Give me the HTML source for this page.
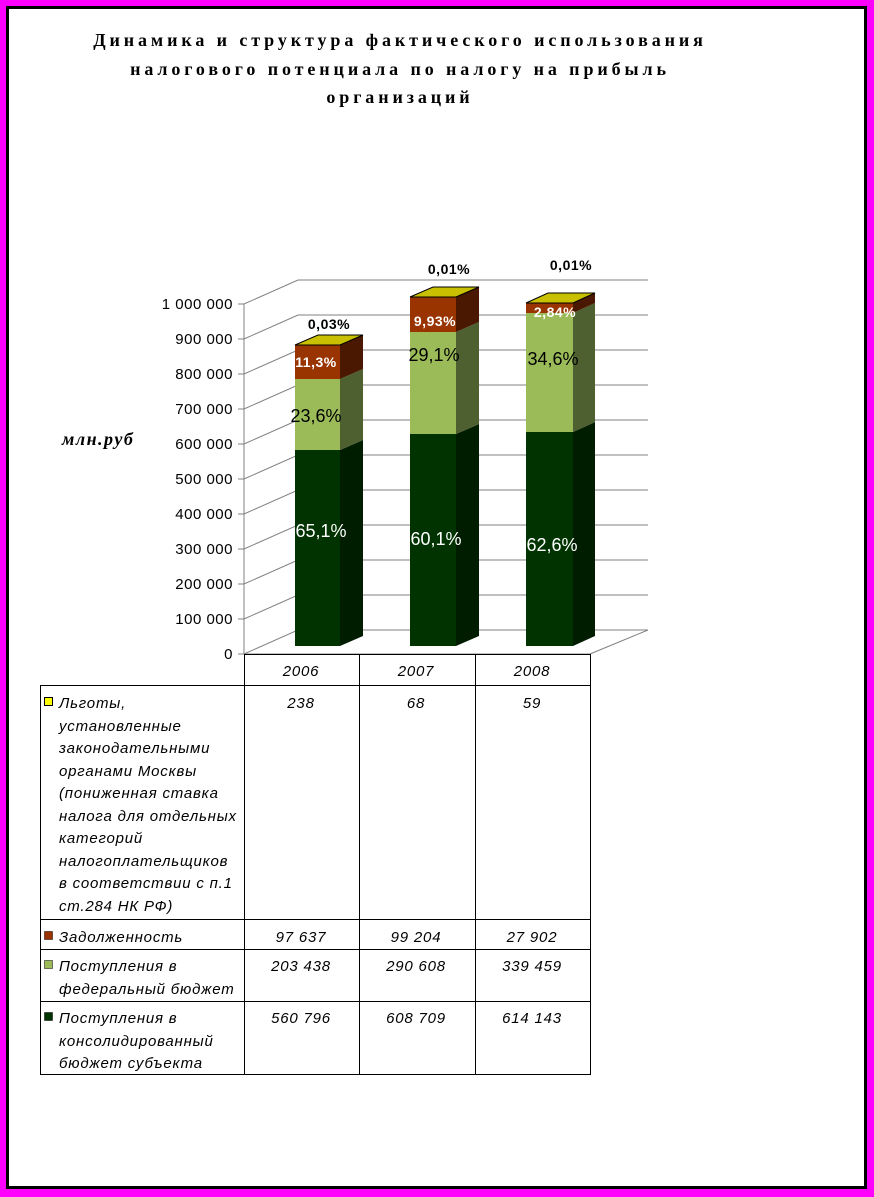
<!DOCTYPE html>
<html><head><meta charset="utf-8"><style>
html,body{margin:0;padding:0;background:#fff}
svg{display:block}
</style></head><body>
<svg width="874" height="1197" xmlns="http://www.w3.org/2000/svg" font-family="Liberation Sans, sans-serif">
<rect x="0" y="0" width="874" height="1197" fill="#ff00ff"/>
<rect x="6" y="6" width="861" height="1183" fill="#000"/>
<rect x="9" y="9" width="855" height="1177" fill="#fff"/>
<g font-family="Liberation Serif, serif" font-weight="bold" font-size="18" text-anchor="middle" letter-spacing="3.9">
<text x="400" y="46">Динамика и структура фактического использования</text>
<text x="400" y="75">налогового потенциала по налогу на прибыль</text>
<text x="400" y="103">организаций</text>
</g>
<text x="62" y="445" font-family="Liberation Serif, serif" font-style="italic" font-weight="bold" font-size="18" letter-spacing="1.5">млн.руб</text>
<g stroke="#808080" stroke-width="1" fill="none">
<line x1="244" y1="304" x2="244" y2="654"/>
<line x1="244" y1="654" x2="590" y2="654"/>
<line x1="590" y1="654" x2="648" y2="630"/>
</g>
<g stroke="#808080" stroke-width="1" fill="none">
<polyline points="238,654 244,654 298,630 648,630"/>
<polyline points="238,619 244,619 298,595 648,595"/>
<polyline points="238,584 244,584 298,560 648,560"/>
<polyline points="238,549 244,549 298,525 648,525"/>
<polyline points="238,514 244,514 298,490 648,490"/>
<polyline points="238,479 244,479 298,455 648,455"/>
<polyline points="238,444 244,444 298,420 648,420"/>
<polyline points="238,409 244,409 298,385 648,385"/>
<polyline points="238,374 244,374 298,350 648,350"/>
<polyline points="238,339 244,339 298,315 648,315"/>
<polyline points="238,304 244,304 298,280 648,280"/>
</g>
<g font-size="15" letter-spacing="0.5" text-anchor="end" fill="#000">
<text x="233" y="659">0</text><text x="233" y="624">100 000</text><text x="233" y="589">200 000</text>
<text x="233" y="554">300 000</text><text x="233" y="519">400 000</text><text x="233" y="484">500 000</text>
<text x="233" y="449">600 000</text><text x="233" y="414">700 000</text><text x="233" y="379">800 000</text>
<text x="233" y="344">900 000</text><text x="233" y="309">1 000 000</text>
</g>
<g>
<rect x="295" y="450" width="45" height="196" fill="#003300"/>
<polygon points="340,450 363,440 363,636 340,646" fill="#001d00"/>
<rect x="295" y="379" width="45" height="71" fill="#9bbb59"/>
<polygon points="340,379 363,369 363,440 340,450" fill="#4f6030"/>
<rect x="295" y="345" width="45" height="34" fill="#993300"/>
<polygon points="340,345 363,335 363,369 340,379" fill="#4a1800"/>
<polygon points="295,345 318,335 363,335 340,345" fill="#c8c000" stroke="#000" stroke-width="1"/>
</g>
<g>
<rect x="410" y="434" width="46" height="212" fill="#003300"/>
<polygon points="456,434 479,424 479,636 456,646" fill="#001d00"/>
<rect x="410" y="332" width="46" height="102" fill="#9bbb59"/>
<polygon points="456,332 479,322 479,424 456,434" fill="#4f6030"/>
<rect x="410" y="297" width="46" height="35" fill="#993300"/>
<polygon points="456,297 479,287 479,322 456,332" fill="#4a1800"/>
<polygon points="410,297 433,287 479,287 456,297" fill="#c8c000" stroke="#000" stroke-width="1"/>
</g>
<g>
<rect x="526" y="432" width="47" height="214" fill="#003300"/>
<polygon points="573,432 595,422 595,636 573,646" fill="#001d00"/>
<rect x="526" y="313" width="47" height="119" fill="#9bbb59"/>
<polygon points="573,313 595,303 595,422 573,432" fill="#4f6030"/>
<rect x="526" y="303" width="47" height="10" fill="#993300"/>
<polygon points="573,303 595,293 595,303 573,313" fill="#4a1800"/>
<polygon points="526,303 548,293 595,293 573,303" fill="#c8c000" stroke="#000" stroke-width="1"/>
</g>
<g font-size="18" text-anchor="middle">
<text x="321" y="537" fill="#fff">65,1%</text>
<text x="316" y="422" fill="#000">23,6%</text>
<text x="436" y="545" fill="#fff">60,1%</text>
<text x="434" y="361" fill="#000">29,1%</text>
<text x="552" y="551" fill="#fff">62,6%</text>
<text x="553" y="365" fill="#000">34,6%</text>
</g>
<g font-size="14" font-weight="bold" text-anchor="middle" letter-spacing="0.5">
<text x="316" y="367" fill="#fff">11,3%</text>
<text x="329" y="329" fill="#000">0,03%</text>
<text x="435" y="326" fill="#fff">9,93%</text>
<text x="449" y="274" fill="#000">0,01%</text>
<text x="555" y="317" fill="#fff">2,84%</text>
<text x="571" y="270" fill="#000">0,01%</text>
</g>
<g stroke="#000" stroke-width="1" fill="none">
<rect x="244.5" y="654.5" width="346" height="31"/>
<rect x="40.5" y="685.5" width="550" height="389"/>
<line x1="244.5" y1="654" x2="244.5" y2="1075"/>
<line x1="359.5" y1="654" x2="359.5" y2="1075"/>
<line x1="475.5" y1="654" x2="475.5" y2="1075"/>
<line x1="40" y1="919.5" x2="591" y2="919.5"/>
<line x1="40" y1="949.5" x2="591" y2="949.5"/>
<line x1="40" y1="1001.5" x2="591" y2="1001.5"/>
</g>
<g font-size="15" font-style="italic" fill="#000" letter-spacing="0.8">
<g text-anchor="middle">
<text x="301" y="676">2006</text><text x="416" y="676">2007</text><text x="532" y="676">2008</text>
<text x="301" y="708">238</text><text x="416" y="708">68</text><text x="532" y="708">59</text>
<text x="301" y="942">97 637</text><text x="416" y="942">99 204</text><text x="532" y="942">27 902</text>
<text x="301" y="971">203 438</text><text x="416" y="971">290 608</text><text x="532" y="971">339 459</text>
<text x="301" y="1023">560 796</text><text x="416" y="1023">608 709</text><text x="532" y="1023">614 143</text>
</g>
<text x="59" y="708">Льготы,</text>
<text x="59" y="731">установленные</text>
<text x="59" y="753">законодательными</text>
<text x="59" y="776">органами Москвы</text>
<text x="59" y="798">(пониженная ставка</text>
<text x="59" y="821">налога для отдельных</text>
<text x="59" y="843">категорий</text>
<text x="59" y="866">налогоплательщиков</text>
<text x="59" y="888">в соответствии с п.1</text>
<text x="59" y="911">ст.284 НК РФ)</text>
<text x="59" y="942">Задолженность</text>
<text x="59" y="971">Поступления в</text>
<text x="59" y="994">федеральный бюджет</text>
<text x="59" y="1023">Поступления в</text>
<text x="59" y="1046">консолидированный</text>
<text x="59" y="1068">бюджет субъекта</text>
</g>
<rect x="44.5" y="697.5" width="8" height="8" fill="#ffff00" stroke="#000"/>
<rect x="44.5" y="931.5" width="8" height="8" fill="#993300" stroke="#000" stroke-width="0.5"/>
<rect x="44.5" y="960.5" width="8" height="8" fill="#9bbb59" stroke="#000" stroke-width="0.5"/>
<rect x="44.5" y="1012.5" width="8" height="8" fill="#003300" stroke="#000" stroke-width="0.5"/>
</svg>
</body></html>
